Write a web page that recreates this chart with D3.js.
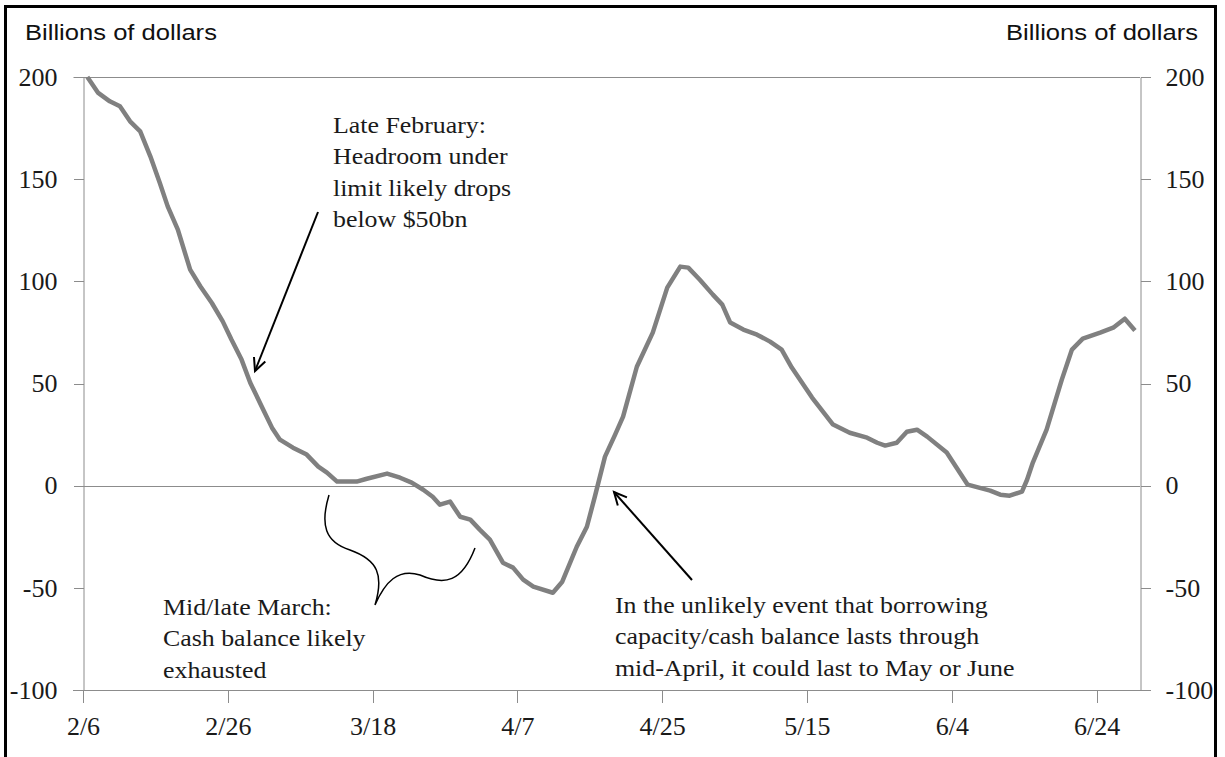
<!DOCTYPE html>
<html>
<head>
<meta charset="utf-8">
<script src="https://cdn.jsdelivr.net/npm/d3@7"></script>
<style>
  html, body { margin: 0; padding: 0; background: #fff; }
  svg { display: block; }
</style>
</head>
<body>
<svg id="chart" width="1225" height="757"></svg>
<script>
// ---- data ----
const dayIndex = [0.6, 2.1, 3.7, 5.1, 6.5, 7.9, 9.3, 10.6, 11.7, 13.1, 14.8, 16.2, 17.8, 19.3, 20.5, 21.9, 23.1, 24.9, 26.1,
  27.2, 29.0, 30.9, 32.5, 33.7, 35.1, 37.8, 39.2, 42.0, 43.8, 45.4, 47.0, 48.3, 49.3, 50.7, 52.1, 53.5, 54.8, 56.2, 58.0,
  59.4, 60.8, 62.2, 64.9, 66.2, 68.2, 69.6, 70.7, 72.1, 73.5, 74.6, 76.5, 78.7, 80.7, 82.5, 83.6, 85.2, 87.0, 88.3, 89.4,
  91.2, 93.1, 94.9, 96.5, 97.9, 100.7, 103.6, 105.9, 108.3, 109.7, 110.8, 112.4, 113.8, 115.2, 116.6, 119.3, 122.2, 125.3,
  126.7, 128.0, 129.7, 130.4, 131.2, 133.1, 135.2, 136.6, 138.1, 140.5, 142.3, 143.9, 145.3];
const headroom = [200, 192.2, 188.1, 185.7, 178.3, 173.4, 161.2, 148.3, 136.7, 125.3, 105.7, 97.6, 89.4, 80.4, 71.5, 61.7, 50.4, 37.2, 28.4,
  22.5, 18.6, 15.2, 9.3, 6.4, 2.0, 2.0, 3.4, 5.9, 3.9, 1.5, -2.0, -5.4, -9.3, -7.8, -15.2, -16.6, -21.5, -26.4, -37.7,
  -40.1, -46.0, -49.4, -52.4, -47.0, -29.9, -20.1, -5.4, 14.2, 25.0, 33.8, 58.2, 74.9, 96.9, 107.2, 106.7, 100.8, 93.5, 88.6, 79.8,
  76.4, 73.9, 70.5, 66.6, 57.8, 43.1, 29.9, 25.9, 23.5, 21.0, 19.6, 21.0, 26.4, 27.4, 24.0, 16.2, 0.5, -2.4,
  -4.4, -4.9, -2.9, 2.9, 11.3, 27.4, 51.9, 66.6, 72.0, 74.9, 77.3, 81.7, 75.9];
const xTickIndex = [0, 20, 40, 60, 80, 100, 120, 140];
const xTickLabels = ["2/6", "2/26", "3/18", "4/7", "4/25", "5/15", "6/4", "6/24"];
const yTicks = [-100, -50, 0, 50, 100, 150, 200];
const axisTitle = "Billions of dollars";
const noteFeb = ["Late February:", "Headroom under", "limit likely drops", "below $50bn"];
const noteMar = ["Mid/late March:", "Cash balance likely", "exhausted"];
const noteApr = ["In the unlikely event that borrowing", "capacity/cash balance lasts through", "mid-April, it could last to May or June"];

// ---- layout ----
const svg = d3.select("#chart");
const L = 83, R = 1140, T = 77, B = 690;
const x = d3.scaleLinear().domain([0, 146]).range([L, R]);
const y = d3.scaleLinear().domain([-100, 200]).range([B, T]);
const axisColor = "#8c8c8c";
const serif = "'Liberation Serif', 'Times New Roman', serif";
const sans = "'Liberation Sans', Arial, sans-serif";

// outer frame
svg.append("rect").attr("x", 5.5).attr("y", 6.5).attr("width", 1210).attr("height", 760)
  .attr("fill", "none").attr("stroke", "#000").attr("stroke-width", 3);

// horizontal lines at 200 and 0
[200, 0].forEach(v => {
  svg.append("line").attr("x1", L).attr("x2", R).attr("y1", Math.round(y(v)) + 0.5).attr("y2", Math.round(y(v)) + 0.5)
    .attr("stroke", axisColor).attr("stroke-width", 1);
});

const fmt = d => String(d);
// left axis
const gl = svg.append("g").attr("transform", `translate(${L + 0.5},0)`)
  .call(d3.axisLeft(y).tickValues(yTicks).tickSize(10).tickPadding(16).tickFormat(fmt));
// right axis
const gr = svg.append("g").attr("transform", `translate(${R + 0.5},0)`)
  .call(d3.axisRight(y).tickValues(yTicks).tickSize(10).tickPadding(15).tickFormat(fmt));
// bottom axis at -100
const gb = svg.append("g").attr("transform", `translate(0,${Math.round(y(-100)) + 0.5})`)
  .call(d3.axisBottom(x).tickValues(xTickIndex).tickSize(12).tickPadding(14)
    .tickFormat((d, i) => xTickLabels[i]));

[gl, gr, gb].forEach(g => {
  g.select(".domain").attr("stroke", axisColor);
  g.selectAll(".tick line").attr("stroke", axisColor).attr("shape-rendering", "crispEdges");
  g.selectAll(".tick text").attr("font-family", serif).attr("font-size", 26).attr("fill", "#1a1a1a");
});
gb.select(".domain").attr("d", `M${L - 10},0H${R + 10}`);

// axis titles (horizontally widened to match the original face)
const titleScale = 1.19;
svg.append("g").attr("transform", `translate(25,40) scale(${titleScale},1)`)
  .append("text").attr("font-family", sans).attr("font-size", 21.5).attr("fill", "#111").text(axisTitle);
svg.append("g").attr("transform", `translate(1198,40) scale(${titleScale},1)`)
  .append("text").attr("text-anchor", "end").attr("font-family", sans).attr("font-size", 21.5)
  .attr("fill", "#111").text(axisTitle);

// data line
const line = d3.line().x((d, i) => x(dayIndex[i])).y(d => y(d));
svg.append("path").datum(headroom).attr("d", line).attr("fill", "none")
  .attr("stroke", "#808080").attr("stroke-width", 4.5).attr("stroke-linejoin", "round").attr("stroke-linecap", "butt");

// annotations
function note(lines, x0, y0, dy) {
  const t = svg.append("g").attr("transform", `translate(${x0},0) scale(1.15,1)`)
    .append("text").attr("font-family", serif).attr("font-size", 22.5).attr("fill", "#1a1a1a");
  lines.forEach((s, i) => t.append("tspan").attr("x", 0).attr("y", y0 + i * dy).text(s));
}
note(noteFeb, 333, 133, 31.3);
note(noteMar, 163, 615, 31.5);
note(noteApr, 615, 613, 31.5);

function arrow(x1, y1, x2, y2) {
  svg.append("line").attr("x1", x1).attr("y1", y1).attr("x2", x2).attr("y2", y2)
    .attr("stroke", "#000").attr("stroke-width", 2);
  const ang = Math.atan2(y2 - y1, x2 - x1), len = 14, spread = 0.45;
  const pts = [ang + Math.PI - spread, ang + Math.PI + spread].map(a => [x2 + len * Math.cos(a), y2 + len * Math.sin(a)]);
  svg.append("path").attr("d", `M${pts[0][0]},${pts[0][1]}L${x2},${y2}L${pts[1][0]},${pts[1][1]}`)
    .attr("fill", "none").attr("stroke", "#000").attr("stroke-width", 2);
}
arrow(318, 212, 255, 371);
arrow(692, 580, 614, 492);

// brace
svg.append("path")
  .attr("d", "M329,495 C320,525 325,542 350,550 C378,560 384,575 375,605 C385,582 398,568 420,575 C445,586 462,582 475,548")
  .attr("fill", "none").attr("stroke", "#000").attr("stroke-width", 1.5);
</script>
</body>
</html>
